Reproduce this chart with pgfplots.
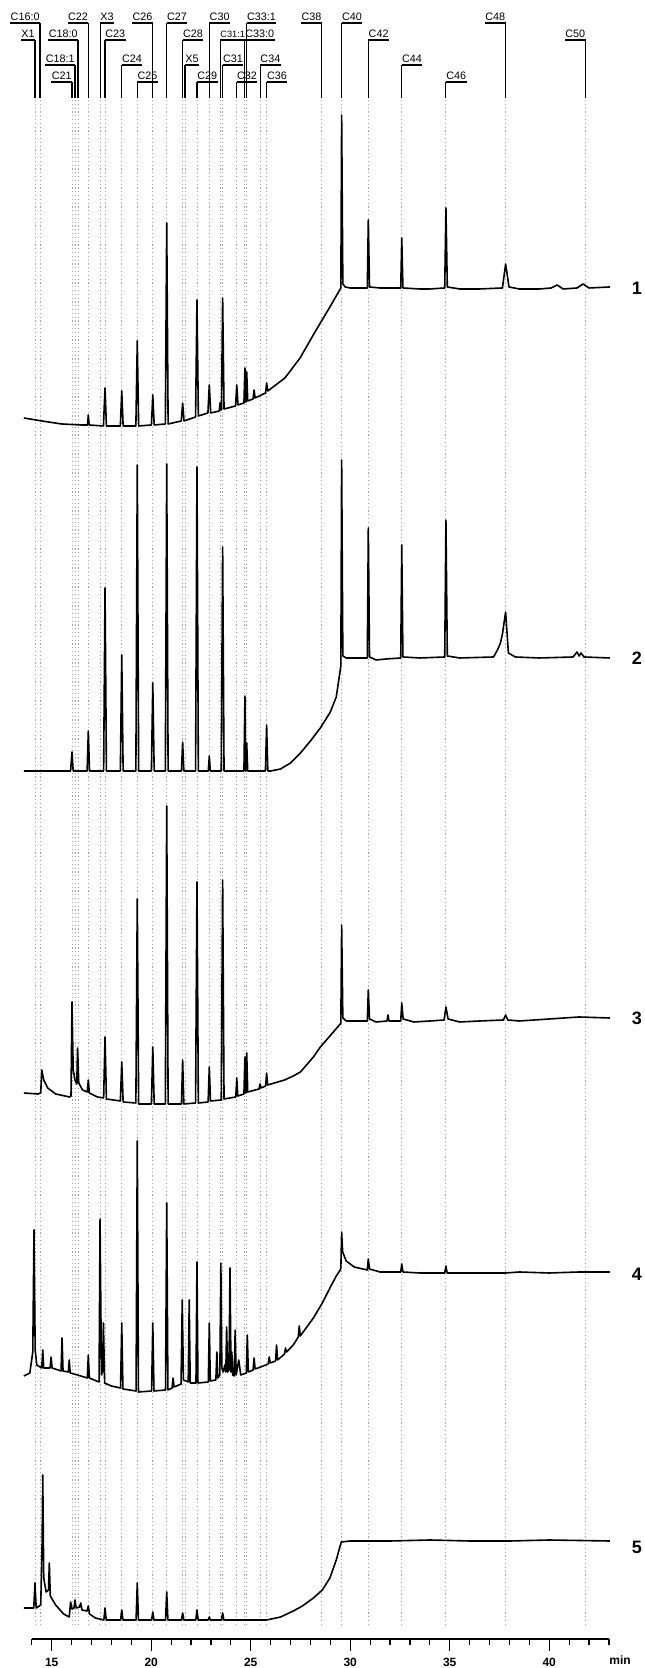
\documentclass[border=0pt]{standalone}
\usepackage{pgfplots}
\pgfplotsset{compat=1.18}
\usepackage{fontspec}
\setmainfont{Liberation Sans}
\newcommand\labfont{\fontsize{5.4}{6}\selectfont}
\newcommand\lab[5]{%
  \addplot[black, line width=0.55pt] coordinates {(#1,#2) (#1,98)};
  \node[anchor=#4, font=\labfont, inner xsep=0pt, inner ysep=0.8pt,
    append after command={(\tikzlastnode.south west) edge[line width=0.55pt] (\tikzlastnode.south east)}]
    at (axis cs:#1,#3) {#5};}
\newcommand\dl[1]{\addplot[gray!70, line width=0.45pt, dash pattern=on 0.6pt off 1.3pt] coordinates {(#1,100) (#1,1625)};}
\newcommand\trlab[2]{\node[font=\fontsize{9}{10}\selectfont\bfseries] at (axis cs:44.41,#1) {#2};}
\begin{document}
\begin{tikzpicture}
\begin{axis}[
  scale only axis, width=288.55pt, height=819.5pt,
  xmin=14, xmax=43, ymin=29, ymax=1668,
  clip=false,
  axis x line=bottom, axis y line=none,
  x axis line style={-, line width=0.7pt},
  y filter/.expression={1668-y},
  xtick={15,20,25,30,35,40},
  minor xtick={14,16,17,18,19,21,22,23,24,26,27,28,29,31,32,33,34,36,37,38,39,41,42,43},
  tick align=outside,
  major tick length=6pt, minor tick length=3.2pt,
  tick style={black, line width=0.6pt},
  xticklabel style={font=\fontsize{6}{7}\selectfont\bfseries},
  /pgf/number format/assume math mode=true,
  ytick=\empty,
]
% dotted guide lines
\dl{14.16}\dl{14.41}\dl{16.02}\dl{16.17}\dl{16.32}\dl{16.84}\dl{17.43}\dl{17.68}
\dl{18.52}\dl{19.30}\dl{20.08}\dl{20.78}\dl{21.58}\dl{21.70}\dl{22.30}\dl{22.92}
\dl{23.46}\dl{23.59}\dl{24.30}\dl{24.71}\dl{24.80}\dl{25.47}\dl{25.80}\dl{28.57}
\dl{29.57}\dl{30.91}\dl{32.59}\dl{34.81}\dl{37.81}\dl{41.83}
% peak labels: t, underline px, underline data, anchor, text
\lab{14.41}{23}{1645}{south east}{C16:0}
\lab{16.84}{23}{1645}{south east}{C22}
\lab{17.43}{23}{1645}{south west}{X3}
\lab{20.08}{23}{1645}{south east}{C26}
\lab{20.78}{23}{1645}{south west}{C27}
\lab{22.92}{23}{1645}{south west}{C30}
\lab{24.80}{23}{1645}{south west}{C33:1}
\lab{28.57}{23}{1645}{south east}{C38}
\lab{29.57}{23}{1645}{south west}{C40}
\lab{37.81}{23}{1645}{south east}{C48}
\lab{14.16}{40}{1628}{south east}{X1}
\lab{16.32}{40}{1628}{south east}{C18:0}
\lab{17.68}{40}{1628}{south west}{C23}
\lab{21.58}{40}{1628}{south west}{C28}
\lab{23.46}{40}{1628}{south west}{\fontsize{4.6}{5}\selectfont C31:1}
\lab{24.71}{40}{1628}{south west}{C33:0}
\lab{30.91}{40}{1628}{south west}{C42}
\lab{41.83}{40}{1628}{south east}{C50}
\lab{16.17}{65}{1603}{south east}{C18:1}
\lab{18.52}{65}{1603}{south west}{C24}
\lab{21.70}{65}{1603}{south west}{X5}
\lab{23.59}{65}{1603}{south west}{C31}
\lab{25.47}{65}{1603}{south west}{C34}
\lab{32.59}{65}{1603}{south west}{C44}
\lab{16.02}{82}{1586}{south east}{C21}
\lab{19.30}{82}{1586}{south west}{C25}
\lab{22.30}{82}{1586}{south west}{C29}
\lab{24.30}{82}{1586}{south west}{C32}
\lab{25.80}{82}{1586}{south west}{C36}
\lab{34.81}{82}{1586}{south west}{C46}
% trace 1
\addplot[black, line width=0.8pt, line join=round] coordinates {
(13.6,418) (14.5,421) (15.5,424) (16.5,425) (16.8,425) (16.84,415) (16.88,425) (17.6,426) (17.68,388) (17.75,426)
(18.45,426) (18.52,391) (18.59,426) (19.23,426) (19.30,341) (19.37,426) (20.01,425) (20.08,395) (20.15,425)
(20.71,424) (20.78,223) (20.85,424) (21.51,421) (21.58,403) (21.65,421) (22.23,417) (22.30,300) (22.37,416)
(22.85,413) (22.92,385) (22.99,413) (23.42,411) (23.46,403) (23.5,410) (23.53,410) (23.59,298) (23.66,409)
(24.24,406) (24.30,385) (24.36,405) (24.66,403) (24.71,368) (24.75,402) (24.77,402) (24.80,372) (24.85,401)
(25.12,399) (25.17,390) (25.22,398) (25.75,393) (25.80,383) (25.86,391) (26.72,378) (27.48,358) (28.23,332)
(28.98,307) (29.5,289) (29.53,288) (29.57,115) (29.63,284) (29.75,287) (30.0,288) (30.5,288) (30.86,288)
(30.91,220) (30.97,287) (31.5,288) (32.0,288) (32.54,288) (32.59,238) (32.65,288) (33.5,289) (34.0,289)
(34.75,288) (34.81,208) (34.88,287) (35.5,289) (36.5,289) (37.65,288) (37.81,264) (37.98,287) (38.5,289)
(39.5,289) (40.1,288) (40.4,285) (40.7,289) (41.4,288) (41.7,284) (42.0,288) (43.05,287)};
% trace 2
\addplot[black, line width=0.8pt, line join=round] coordinates {
(13.6,771) (15.95,771) (16.02,752) (16.08,771) (16.78,771) (16.84,731) (16.9,771) (17.61,771) (17.68,588) (17.75,771)
(18.45,771) (18.52,655) (18.59,771) (19.23,771) (19.30,465) (19.37,771) (20.01,771) (20.08,683) (20.15,771)
(20.71,771) (20.78,464) (20.85,771) (21.52,771) (21.58,742) (21.64,771) (22.23,771) (22.30,467) (22.37,771)
(22.87,771) (22.92,756) (22.97,771) (23.52,771) (23.59,547) (23.66,771) (24.66,771) (24.71,696) (24.75,771)
(24.77,771) (24.80,743) (24.85,771) (25.74,771) (25.80,725) (25.86,771) (26.0,771) (26.5,769) (27.0,763)
(27.5,753) (28.0,741) (28.5,728) (29.0,712) (29.3,697) (29.5,670) (29.53,666) (29.57,460) (29.63,656) (29.8,658)
(30.3,658) (30.86,658) (30.91,528) (30.97,657) (31.3,660) (31.8,659) (32.54,658) (32.59,545) (32.65,657)
(33.5,658) (34.75,657) (34.81,520) (34.88,656) (35.5,658) (37.2,657) (37.4,650) (37.55,643) (37.65,634)
(37.81,612) (37.95,653) (38.3,657) (39.5,658) (41.2,657) (41.4,652) (41.5,656) (41.6,653) (41.75,657) (43.05,658)};
% trace 3
\addplot[black, line width=0.8pt, line join=round] coordinates {
(13.6,1093) (14.3,1094) (14.45,1093) (14.5,1070) (14.6,1080) (14.8,1088) (15.2,1094) (15.9,1097) (15.97,1096)
(16.02,1002) (16.08,1070) (16.17,1080) (16.26,1084) (16.30,1048) (16.36,1083) (16.55,1090) (16.79,1092)
(16.84,1080) (16.89,1093) (17.3,1097) (17.61,1098) (17.68,1037) (17.75,1099) (18.45,1101) (18.52,1062)
(18.59,1102) (19.23,1103) (19.30,899) (19.37,1104) (20.01,1104) (20.08,1047) (20.15,1104) (20.71,1104)
(20.78,806) (20.85,1104) (21.52,1104) (21.58,1060) (21.64,1104) (22.23,1103) (22.30,882) (22.37,1103)
(22.86,1102) (22.92,1067) (22.98,1101) (23.52,1100) (23.59,880) (23.66,1099) (24.25,1097) (24.30,1078)
(24.35,1096) (24.66,1094) (24.71,1057) (24.75,1093) (24.77,1093) (24.80,1053) (24.85,1092) (25.42,1089)
(25.47,1084) (25.52,1088) (25.75,1086) (25.80,1073) (25.85,1085) (26.7,1080) (27.14,1076) (27.5,1072)
(28.15,1057) (28.5,1047) (28.98,1036) (29.5,1024) (29.53,1023) (29.57,925) (29.63,1018) (29.8,1021)
(30.3,1021) (30.86,1021) (30.91,990) (30.97,1019) (31.3,1022) (31.85,1021) (31.9,1015) (31.95,1021)
(32.54,1021) (32.59,1003) (32.66,1019) (33.2,1022) (34.0,1021) (34.72,1020) (34.81,1007) (34.92,1019)
(35.5,1022) (36.5,1021) (37.7,1020) (37.81,1015) (37.92,1020) (38.5,1021) (40,1019) (41.5,1017) (43.05,1018)};
% trace 4
\addplot[black, line width=0.8pt, line join=round] coordinates {
(13.6,1376) (13.9,1373) (14.05,1352) (14.11,1230) (14.17,1350) (14.25,1365) (14.5,1368) (14.55,1350) (14.6,1368)
(14.92,1368) (14.97,1357) (15.02,1368) (15.47,1371) (15.52,1338) (15.57,1371) (15.84,1372) (15.88,1360)
(15.93,1373) (16.3,1375) (16.79,1378) (16.84,1355) (16.89,1378) (17.38,1382) (17.43,1219) (17.5,1375)
(17.55,1372) (17.6,1323) (17.66,1383) (18.0,1386) (18.46,1388) (18.52,1323) (18.58,1389) (19.24,1391)
(19.30,1141) (19.36,1392) (20.02,1391) (20.08,1323) (20.14,1391) (20.72,1390) (20.78,1203) (20.84,1390)
(21.05,1388) (21.1,1378) (21.15,1387) (21.5,1384) (21.56,1300) (21.62,1380) (21.86,1382) (21.91,1300)
(21.96,1383) (22.25,1383) (22.30,1262) (22.35,1383) (22.87,1382) (22.92,1323) (22.97,1381) (23.25,1380)
(23.3,1352) (23.35,1378) (23.45,1375) (23.50,1263) (23.55,1368) (23.62,1372) (23.7,1365) (23.75,1372)
(23.79,1327) (23.84,1372) (23.91,1370) (23.96,1268) (24.01,1372) (24.05,1352) (24.1,1375) (24.17,1376)
(24.22,1330) (24.27,1375) (24.4,1360) (24.5,1375) (24.78,1373) (24.83,1335) (24.88,1372) (25.12,1370)
(25.17,1358) (25.22,1369) (25.5,1367) (25.88,1364) (25.93,1357) (25.98,1363) (26.25,1361) (26.3,1345)
(26.35,1360) (26.7,1354) (26.75,1348) (26.8,1352) (27.14,1345) (27.39,1337) (27.44,1326) (27.49,1336)
(28.15,1318) (28.6,1303) (28.98,1288) (29.3,1276) (29.5,1270) (29.53,1268) (29.57,1232) (29.62,1252)
(29.8,1261) (30.2,1267) (30.86,1270) (30.91,1259) (30.97,1269) (31.5,1272) (32.54,1272) (32.59,1264)
(32.65,1272) (33.5,1273) (34.75,1273) (34.81,1266) (34.87,1273) (36,1273) (37.8,1273) (38.5,1272) (40,1273)
(41.5,1272) (43.05,1272)};
% trace 5
\addplot[black, line width=0.8pt, line join=round] coordinates {
(13.6,1608) (14.1,1608) (14.16,1583) (14.22,1608) (14.45,1605) (14.52,1540) (14.55,1475) (14.6,1578) (14.72,1592)
(14.84,1590) (14.88,1563) (14.93,1596) (15.2,1605) (15.6,1614) (15.88,1617) (15.95,1602) (16.02,1609)
(16.12,1608) (16.17,1600) (16.23,1608) (16.4,1607) (16.46,1603) (16.52,1610) (16.78,1611) (16.84,1606)
(16.9,1614) (17.2,1618) (17.62,1620) (17.68,1608) (17.74,1620) (18.46,1620) (18.52,1610) (18.58,1620)
(19.24,1620) (19.30,1583) (19.36,1620) (20.02,1620) (20.08,1612) (20.14,1620) (20.72,1620) (20.78,1592)
(20.84,1620) (21.52,1620) (21.58,1613) (21.64,1620) (22.24,1620) (22.30,1610) (22.36,1620) (22.86,1620)
(22.92,1617) (22.98,1620) (23.53,1620) (23.59,1613) (23.65,1620) (25.8,1620) (26.5,1617) (27.14,1611)
(27.6,1606) (28.15,1598) (28.6,1590) (28.98,1578) (29.3,1560) (29.55,1542) (30,1541) (32,1541) (34,1540)
(36,1541) (38,1541) (40,1540) (43.05,1541)};
% trace numbers
\trlab{1380}{1}
\trlab{1010}{2}
\trlab{650}{3}
\trlab{394}{4}
\trlab{121}{5}
\node[font=\fontsize{6}{7}\selectfont\bfseries] at (axis cs:43.56,8) {min};
\coordinate (bl) at (axis cs:12.402,0);
\coordinate (tr) at (axis cs:44.814,1668);
\end{axis}
\pgfresetboundingbox
\path[use as bounding box] (bl) rectangle (tr);
\end{tikzpicture}
\end{document}
